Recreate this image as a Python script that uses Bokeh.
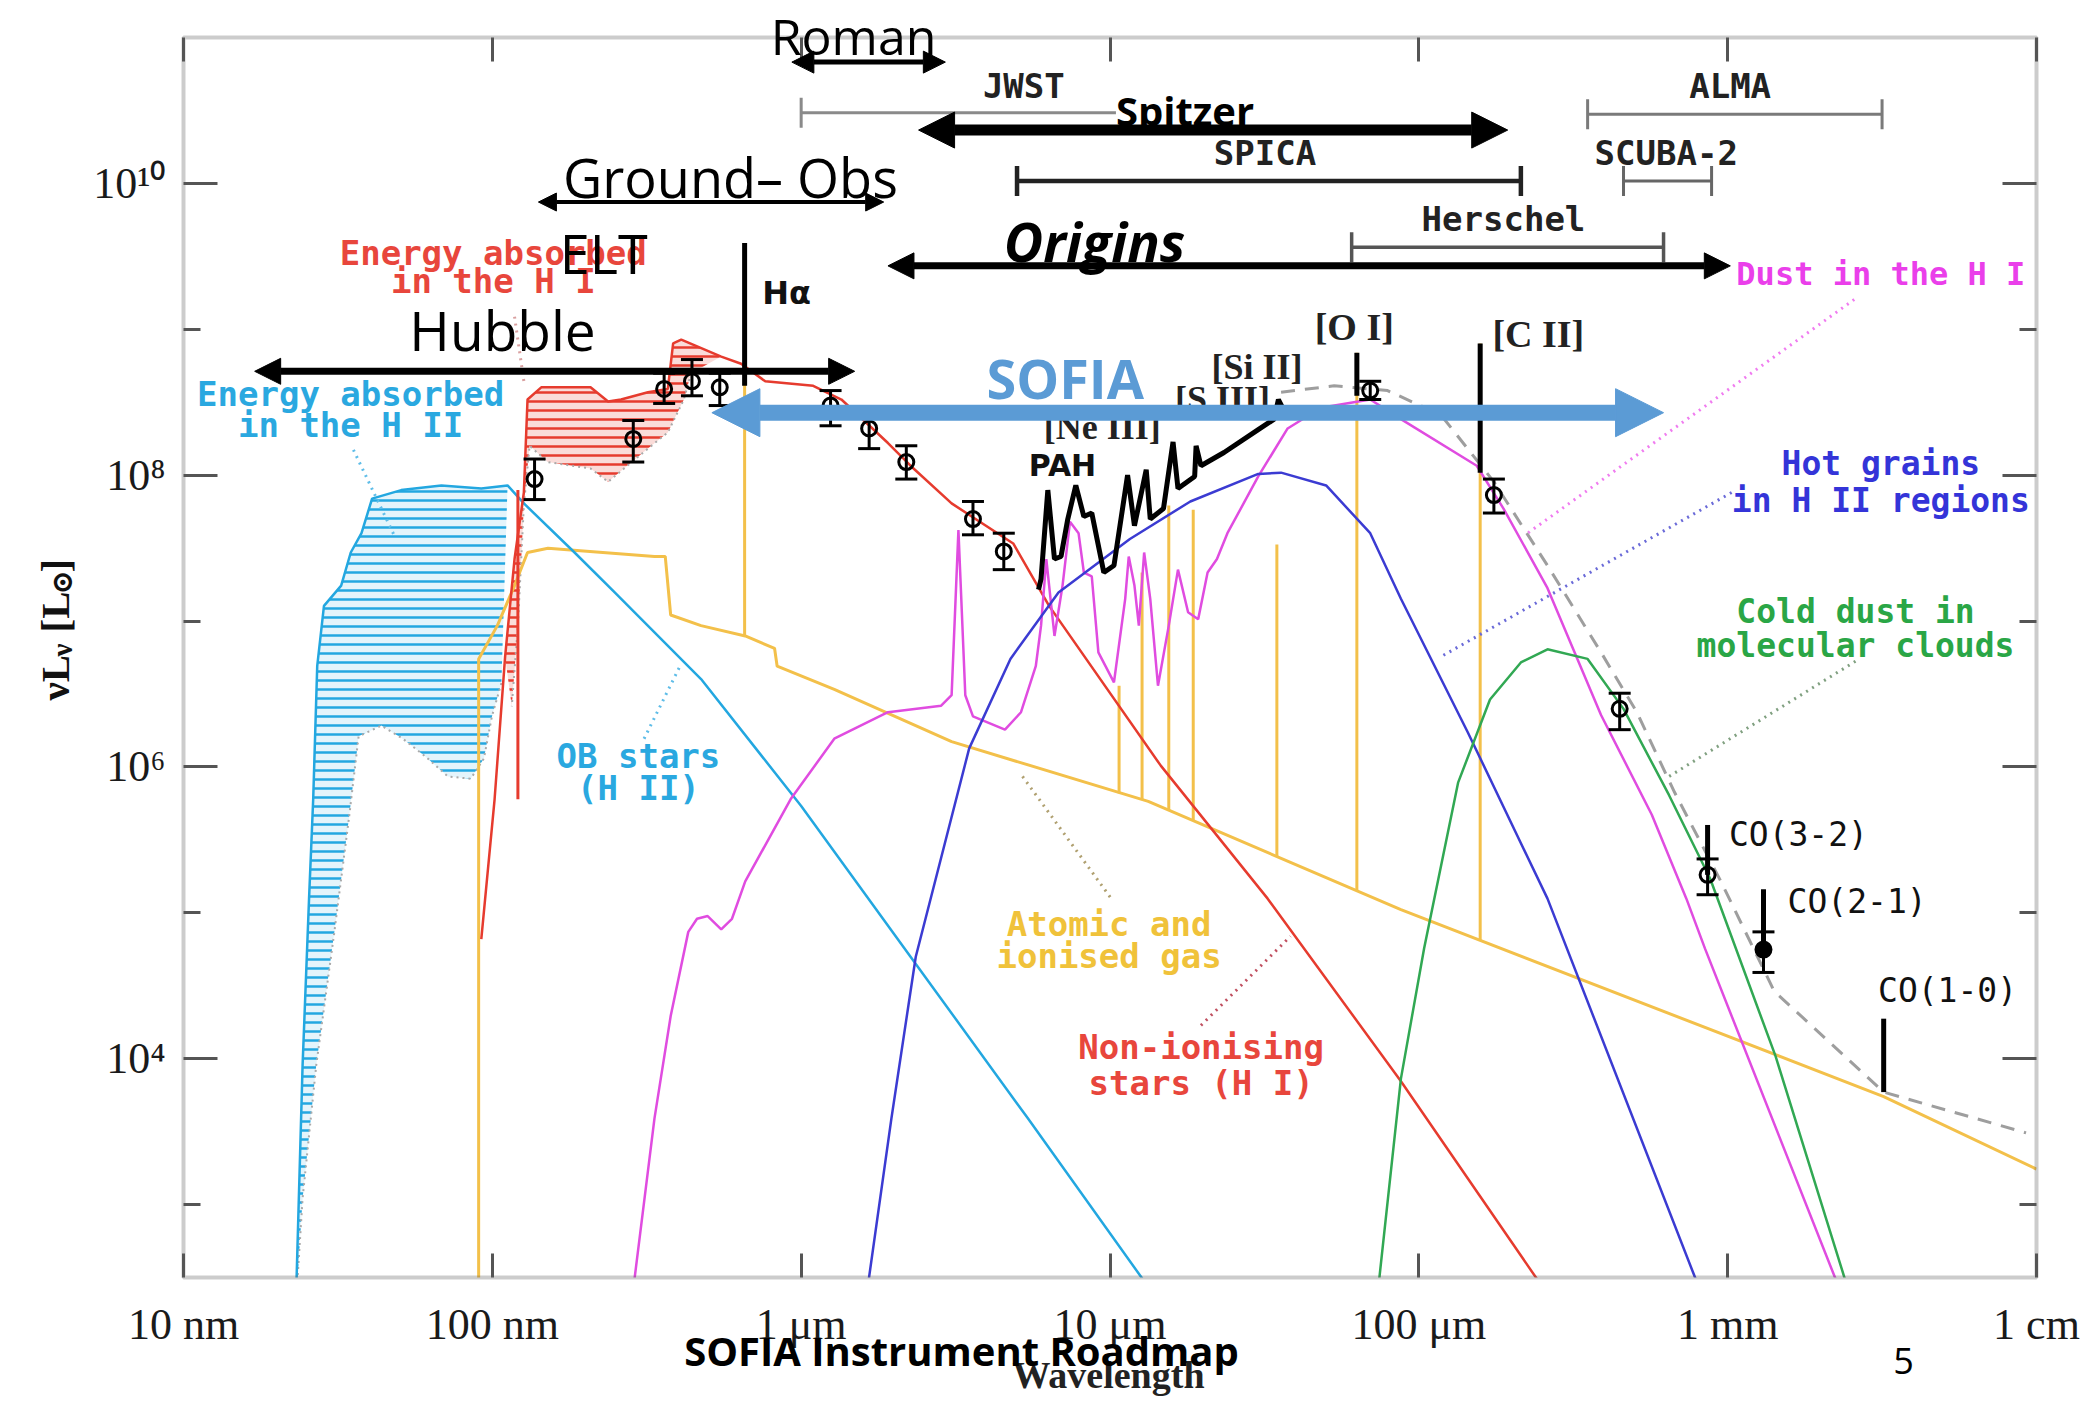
import numpy as np
from bokeh.plotting import figure
from bokeh.models import (Range1d, LogAxis, FixedTicker, Label, Arrow, NormalHead,
                          Whisker, TeeHead, ColumnDataSource, BoxAnnotation)
from bokeh.embed import file_html
from bokeh.resources import INLINE

# ---------------- data: wavelength [micron], nu L_nu [L_sun] ----------------
x_ticks = [0.01, 0.1, 1, 10, 100, 1000, 10000]
x_labels = ["10 nm", "100 nm", "1 μm", "10 μm", "100 μm", "1 mm", "1 cm"]
y_ticks = [10000, 1000000, 100000000, 10000000000]
y_minor = [1000, 100000, 10000000, 1000000000]
y_labels = ["10⁴", "10⁶", "10⁸", "10¹⁰"]
X_MIN, X_MAX = 0.01, 1e4          # axis box limits
Y_MIN, Y_MAX = 10 ** 2.5, 1e11

# OB stars (H II) - cyan
ob_wl = [0.0231, 0.0243, 0.0255, 0.0263, 0.0271, 0.0285, 0.0324, 0.0348, 0.0377, 0.0408, 0.0507,
         0.0684, 0.0921, 0.112, 0.1265, 0.1846, 0.249, 0.474, 1.0, 2.26, 5.42, 12.6, 15.4]
ob_L = [2.0e2, 9.0e3, 1.25e5, 6.0e5, 4.9e6, 1.27e7, 1.75e7, 2.95e7, 4.0e7, 6.9e7, 7.9e7,
        8.5e7, 8.1e7, 8.5e7, 6.4e7, 2.95e7, 1.57e7, 4.0e6, 5.4e5, 5.0e4, 3.9e3, 3.2e2, 1.66e2]
# lower edge of energy absorbed in the H II
hii_bot_wl = [0.107, 0.0997, 0.0939, 0.0851, 0.0718, 0.0607, 0.0513, 0.0437, 0.0369, 0.0344,
              0.0308, 0.0269, 0.0243, 0.0231]
hii_bot_L = [3.76e6, 2.22e6, 1.14e6, 8.3e5, 8.6e5, 1.18e6, 1.56e6, 1.92e6, 1.62e6, 4.6e5,
             7.4e4, 9.0e3, 1.1e3, 2.0e2]

# Non-ionising stars (H I) - red
red_wl = [0.0921, 0.1017, 0.110, 0.118, 0.1265, 0.130, 0.144, 0.208, 0.237, 0.261, 0.319, 0.370,
          0.385, 0.409, 0.551, 0.639, 0.765, 1.094, 1.35, 1.91, 2.26, 3.07, 4.86, 6.35, 14.6,
          32.4, 87.5, 241, 288]
red_L = [6.6e4, 6.0e5, 5.7e6, 2.66e7, 7.6e7, 3.3e8, 4.0e8, 4.0e8, 3.2e8, 3.3e8, 3.7e8, 3.9e8,
         8.0e8, 8.5e8, 6.5e8, 5.8e8, 4.4e8, 4.1e8, 3.3e8, 1.66e8, 1.16e8, 6.4e7, 3.4e7, 1.27e7,
         1.02e6, 1.25e5, 7.0e3, 3.1e2, 1.84e2]
hi_bot_wl = [0.440, 0.417, 0.370, 0.319, 0.237, 0.208, 0.151, 0.132, 0.1265, 0.121, 0.1156]
hi_bot_L = [5.0e8, 3.3e8, 1.96e8, 1.52e8, 9.0e7, 1.11e8, 1.23e8, 1.59e8, 6.2e7, 9.3e6, 2.6e6]
red_spike_wl = [0.121]
red_spike_top = [7.9e7]
red_spike_bot = [6.0e5]

# Atomic and ionised gas - yellow continuum and lines
gas_wl = [0.0903, 0.0903, 0.1038, 0.118, 0.130, 0.1514, 0.335, 0.363, 0.378, 0.474, 0.659,
          0.820, 0.836, 1.28, 3.07, 13.3, 87.5, 3200, 10000]
gas_L = [2.0e2, 5.5e6, 9.3e6, 1.75e7, 2.95e7, 3.15e7, 2.77e7, 2.77e7, 1.10e7, 9.3e6, 7.9e6,
         6.5e6, 4.9e6, 3.4e6, 1.49e6, 5.8e5, 1.05e5, 5.5e3, 1.75e3]
gasline_wl = [0.656, 10.7, 12.7, 15.5, 18.6, 34.7, 63, 158]
gasline_base = [7.9e6, 6.6e5, 6.0e5, 5.05e5, 4.3e5, 2.43e5, 1.41e5, 6.5e4]
gasline_peak = [3.9e9, 3.6e6, 2.15e7, 6.2e7, 5.8e7, 3.35e7, 6.9e8, 8.0e8]

# Dust in the H I - magenta
mag_wl = [0.280, 0.335, 0.378, 0.431, 0.460, 0.498, 0.551, 0.597, 0.659, 0.924, 1.28, 1.91, 2.84,
          3.07, 3.23, 3.40, 3.60, 4.57, 5.15, 5.75, 5.98, 6.22, 6.61, 7.02, 7.42, 7.91, 8.23,
          8.73, 9.17, 10.3, 11.2, 11.5, 12.0, 12.4, 12.9, 13.5, 14.3, 15.5, 16.6, 17.9, 19.3,
          20.7, 22.2, 24.0, 30.2, 37.6, 48.2, 69.6, 87.5, 154, 188, 261, 389, 568, 735, 844,
          2234, 2443]
mag_L = [1.84e2, 3.9e3, 1.96e4, 7.4e4, 9.1e4, 9.5e4, 7.7e4, 9.1e4, 1.64e5, 6.0e5, 1.56e6, 2.37e6,
         2.63e6, 3.1e6, 4.2e7, 3.1e6, 2.22e6, 1.80e6, 2.37e6, 4.9e6, 9.3e6, 2.66e7, 7.9e6,
         1.75e7, 4.8e7, 4.0e7, 2.15e7, 2.02e7, 6.1e6, 3.8e6, 1.42e7, 2.77e7, 1.75e7, 9.3e6,
         2.95e7, 1.42e7, 3.6e6, 9.3e6, 2.25e7, 1.15e7, 1.03e7, 2.15e7, 2.66e7, 4.0e7, 9.8e7,
         2.09e8, 2.9e8, 3.3e8, 2.42e8, 1.16e8, 5.9e7, 1.68e7, 2.27e6, 4.7e5, 1.25e5, 5.7e4,
         3.1e2, 1.84e2]

# Hot grains in H II regions - blue
blu_wl = [1.60, 1.96, 2.35, 3.50, 4.76, 6.81, 11.6, 18.2, 30.2, 35.8, 50.1, 69.6, 87.5, 144,
          261, 787, 861]
blu_L = [1.84e2, 3.9e3, 5.0e4, 1.34e6, 5.5e6, 1.57e7, 3.65e7, 6.6e7, 1.02e8, 1.04e8, 8.5e7,
         4.0e7, 1.42e7, 1.73e6, 1.25e5, 3.1e2, 1.84e2]

# Cold dust in molecular clouds - green
grn_wl = [72.5, 87.5, 104, 134, 170, 214, 261, 352, 460, 646, 878, 1429, 2395, 2618]
grn_L = [1.84e2, 7.3e3, 5.7e4, 7.8e5, 2.9e6, 5.2e6, 6.4e6, 5.5e6, 2.5e6, 6.4e5, 1.71e5, 1.04e4,
         3.1e2, 1.84e2]

# total model (grey dashed)
tot_wl = [35.8, 53.2, 79.2, 118, 175, 261, 389, 508, 673, 951, 1415, 3200, 9250]
tot_L = [3.7e8, 4.1e8, 3.8e8, 2.58e8, 9.0e7, 2.4e7, 6.1e6, 2.37e6, 6.7e5, 1.64e5, 2.9e4,
         5.9e3, 3.1e3]

# observed mid-IR spectrum (black)
obs_wl = [5.87, 5.98, 6.29, 6.61, 6.94, 7.30, 7.75, 8.23, 8.73, 9.55, 10.3, 11.4, 12.0, 13.1,
          13.5, 14.9, 16.0, 16.6, 18.8, 19.0, 19.7, 23.4, 30.2, 34.0, 35.1, 36.5]
obs_L = [1.64e7, 1.94e7, 7.9e7, 2.66e7, 2.77e7, 5.0e7, 8.5e7, 5.2e7, 5.5e7, 2.15e7, 2.4e7,
         1.0e8, 4.5e7, 1.09e8, 5.0e7, 5.9e7, 1.69e8, 8.1e7, 9.8e7, 1.59e8, 1.16e8, 1.43e8,
         2.05e8, 2.42e8, 3.3e8, 2.8e8]

# observed lines (black vertical marks): H-alpha, [O I], [C II], CO(3-2), CO(2-1), CO(1-0)
obsline_wl = [0.656, 63, 158, 861, 1306, 3200]
obsline_top = [3.9e9, 6.9e8, 8.0e8, 4.0e5, 1.45e5, 1.88e4]
obsline_bot = [4.1e8, 3.5e8, 1.04e8, 1.82e5, 5.6e4, 5.9e3]

# photometric data points with error bars
pt_wl = [0.137, 0.286, 0.360, 0.443, 0.545, 1.245, 1.66, 2.19, 3.60, 4.53, 69.6, 175, 447, 861, 1306]
pt_L = [9.4e7, 1.77e8, 3.9e8, 4.4e8, 4.0e8, 3.0e8, 2.09e8, 1.23e8, 5.0e7, 3.0e7, 3.8e8, 7.3e7,
        2.5e6, 1.82e5, 5.6e4]
pt_hi = [1.29e8, 2.37e8, 5.0e8, 6.2e8, 5.0e8, 3.8e8, 2.7e8, 1.59e8, 6.6e7, 4.0e7, 4.4e8, 9.4e7,
         3.2e6, 2.34e5, 7.4e4]
pt_lo = [6.8e7, 1.23e8, 3.1e8, 3.5e8, 3.0e8, 2.18e8, 1.52e8, 9.4e7, 3.9e7, 2.25e7, 3.3e8, 5.5e7,
         1.80e6, 1.33e5, 3.9e4]

# instrument coverage bars from the original figure
inst_names = ["JWST", "SPICA", "Herschel", "ALMA", "SCUBA-2"]
inst_lo = [1.0, 5.0, 60.6, 352, 460]
inst_hi = [28, 214, 620, 3162, 887]
inst_y = [3.05e10, 1.04e10, 3.65e9, 2.98e10, 1.04e10]

# overlaid observatory ranges (arrows)
obs_names = ["Roman", "Ground– Obs", "Hubble", "Spitzer", "Origins", "SOFIA"]
obs_lo = [0.933, 0.141, 0.0170, 2.40, 1.91, 0.514]
obs_hi = [2.93, 1.85, 1.49, 194, 1020, 620]
obs_y = [6.78e10, 7.45e9, 5.15e8, 2.32e10, 2.72e9, 2.68e8]

# ---------------- colours ----------------
CYAN = "#23a7e0"
RED = "#e63b2e"
GOLD = "#f3c04a"
MAG = "#e04ce0"
BLUE = "#3b3bd2"
GREEN = "#31a853"
GRAY = "#9e9e9e"
SOFIA_BLUE = "#5b9bd5"

# ---------------- layout: the plot box sits at these page pixels ----------------
W, H = 2090, 1401
BOX_L, BOX_R, BOX_T, BOX_B = 183, 2036, 37, 1277
dec_x = (BOX_R - BOX_L) / (np.log10(X_MAX) - np.log10(X_MIN))
dec_y = (BOX_B - BOX_T) / (np.log10(Y_MAX) - np.log10(Y_MIN))
x_rng = Range1d(10 ** (np.log10(X_MIN) - BOX_L / dec_x), 10 ** (np.log10(X_MAX) + (W - BOX_R) / dec_x))
y_rng = Range1d(10 ** (np.log10(Y_MIN) - (H - BOX_B) / dec_y), 10 ** (np.log10(Y_MAX) + BOX_T / dec_y))

p = figure(width=W, height=H, x_axis_type="log", y_axis_type="log",
           x_range=x_rng, y_range=y_rng, output_backend="svg", toolbar_location=None,
           min_border=0, min_border_left=0, min_border_right=0, min_border_top=0,
           min_border_bottom=0)
p.grid.visible = False
p.outline_line_color = None
p.background_fill_color = "white"
p.border_fill_color = "white"

xa = p.below[0]
xa.ticker = FixedTicker(ticks=x_ticks)
xa.major_label_overrides = {t: l for t, l in zip(x_ticks, x_labels)}
xa.fixed_location = Y_MIN
ya = p.left[0]
ya.ticker = FixedTicker(ticks=y_ticks, minor_ticks=y_minor)
ya.major_label_overrides = {t: l for t, l in zip(y_ticks, y_labels)}
ya.fixed_location = X_MIN

for ax, tin in ((xa, 24), (ya, 34)):
    ax.axis_line_color = None
    ax.major_tick_in = tin
    ax.major_tick_out = 0
    ax.major_tick_line_width = 3
    ax.major_tick_line_color = "#555555"
    ax.minor_tick_in = 17
    ax.minor_tick_out = 0
    ax.minor_tick_line_width = 3
    ax.minor_tick_line_color = "#555555"
    ax.major_label_text_font = "Liberation Serif"
    ax.major_label_text_font_size = "44px"
    ax.major_label_text_color = "#1a1a1a"
xa.major_label_standoff = 22
ya.major_label_standoff = 18

top = LogAxis(ticker=FixedTicker(ticks=x_ticks), fixed_location=Y_MAX,
              major_label_text_font_size="8px", major_label_text_alpha=0.0,
              major_label_standoff=0, axis_line_color=None,
              major_tick_in=24, major_tick_out=0, major_tick_line_width=3,
              major_tick_line_color="#555555", minor_tick_line_color=None)
p.add_layout(top, "above")
right = LogAxis(ticker=FixedTicker(ticks=y_ticks, minor_ticks=y_minor), fixed_location=X_MAX,
                major_label_text_font_size="8px", major_label_text_alpha=0.0,
                major_label_standoff=0, axis_line_color=None,
                major_tick_in=34, major_tick_out=0, major_tick_line_width=3,
                major_tick_line_color="#555555", minor_tick_in=17, minor_tick_out=0,
                minor_tick_line_width=3, minor_tick_line_color="#555555")
p.add_layout(right, "right")

# ---------------- hatched absorbed-energy areas ----------------
p.patch(ob_wl[:14] + hii_bot_wl, ob_L[:14] + hii_bot_L, fill_color=CYAN, fill_alpha=0.12,
        hatch_pattern="horizontal_line", hatch_color=CYAN, hatch_scale=9, hatch_weight=2.5,
        line_color=None)
p.patch(red_wl[2:15] + hi_bot_wl, red_L[2:15] + hi_bot_L, fill_color=RED, fill_alpha=0.18,
        hatch_pattern="horizontal_line", hatch_color=RED, hatch_scale=9, hatch_weight=2.5,
        line_color=None)
p.line(hii_bot_wl, hii_bot_L, line_color="#aaaaaa", line_width=2, line_dash="2 4")
p.line(hi_bot_wl, hi_bot_L, line_color="#aaaaaa", line_width=2, line_dash="2 4")

# ---------------- model components ----------------
p.line(gas_wl, gas_L, line_color=GOLD, line_width=3)
p.segment(x0=gasline_wl, y0=gasline_base, x1=gasline_wl, y1=gasline_peak,
          line_color=GOLD, line_width=3)
p.line(ob_wl, ob_L, line_color=CYAN, line_width=2.5)
p.line(red_wl, red_L, line_color=RED, line_width=2.5)
p.segment(x0=red_spike_wl, y0=red_spike_bot, x1=red_spike_wl, y1=red_spike_top,
          line_color=RED, line_width=3)
p.line(mag_wl, mag_L, line_color=MAG, line_width=2.5)
p.line(blu_wl, blu_L, line_color=BLUE, line_width=2.5)
p.line(grn_wl, grn_L, line_color=GREEN, line_width=2.5)
p.line(tot_wl, tot_L, line_color=GRAY, line_width=3, line_dash="14 10")
p.line(obs_wl, obs_L, line_color="black", line_width=5)
p.segment(x0=obsline_wl, y0=obsline_bot, x1=obsline_wl, y1=obsline_top,
          line_color="black", line_width=5)

# ---------------- photometry ----------------
src = ColumnDataSource(dict(x=pt_wl, y=pt_L, lo=pt_lo, hi=pt_hi))
p.scatter(pt_wl[:-1], pt_L[:-1], marker="circle", size=15, fill_color=None,
          line_color="black", line_width=3)
p.scatter(pt_wl[-1:], pt_L[-1:], marker="circle", size=15, fill_color="black",
          line_color="black", line_width=3)

# ---------------- instrument bars ----------------
inst_col = ["#8a8a8a", "#222222", "#555555", "#7a7a7a", "#666666"]
inst_w = [3, 4.5, 3.5, 3, 3]
p.segment(x0=inst_lo, y0=inst_y, x1=inst_hi, y1=inst_y, line_color=inst_col, line_width=inst_w)
p.scatter(inst_lo + inst_hi, inst_y + inst_y, marker="dash", angle=np.pi / 2, size=30,
          line_color=inst_col + inst_col, line_width=inst_w + inst_w)

# ---------------- leader lines ----------------
lead_x0 = [0.0355, 0.118, 0.310, 5.21, 19.7, 2570, 1030, 2594]
lead_y0 = [1.49e8, 1.22e9, 1.56e6, 8.6e5, 1.69e4, 1.6e9, 7.6e7, 5.3e6]
lead_x1 = [0.0483, 0.1265, 0.405, 10.1, 38.4, 225, 118, 646]
lead_y1 = [3.8e7, 4.4e8, 4.9e6, 1.25e5, 6.9e4, 4.0e7, 5.7e6, 8.6e5]
lead_c = ["#5fbde8", "#d9a0a0", "#5fbde8", "#b0a070", "#c05060", "#f07cf0", "#6a6ad8", "#80a080"]
p.segment(x0=lead_x0, y0=lead_y0, x1=lead_x1, y1=lead_y1, line_color=lead_c, line_width=3,
          line_dash="2 5")

# white masks: curves are only shown inside the axis box
for kw in (dict(top=Y_MIN), dict(bottom=Y_MAX), dict(right=X_MIN), dict(left=X_MAX)):
    p.add_layout(BoxAnnotation(fill_color="white", fill_alpha=1.0, line_color=None,
                               level="glyph", **kw))
# the axis box
p.add_layout(BoxAnnotation(left=X_MIN, right=X_MAX, bottom=Y_MIN, top=Y_MAX, fill_alpha=0.0,
                           line_color="#555555", line_width=4, level="guide"))

wh = Whisker(source=src, base="x", lower="lo", upper="hi", line_width=3, line_color="black",
             upper_head=TeeHead(size=22, line_width=3, line_color="black"),
             lower_head=TeeHead(size=22, line_width=3, line_color="black"), level="annotation")
p.add_layout(wh)


def lab(text, u, v, size, color="black", font="DejaVu Sans Mono", style="bold",
        align="center", baseline="middle", angle=0.0, bg=None):
    """label placed at log10(wavelength) = u, log10(luminosity) = v"""
    p.add_layout(Label(x=10 ** u, y=10 ** v, text=text, text_font=font, text_font_size=size,
                       text_color=color, text_font_style=style, text_align=align,
                       text_baseline=baseline, angle=angle, background_fill_color=bg))


# labels from the original figure
for t, u, v in zip(inst_names, [0.721, 1.502, 2.274, 3.008, 2.801],
                   [10.667, 10.21, 9.753, 10.667, 10.21]):
    lab(t, u, v, "34px", "#222222")

RL, CL, ML, BL, GL, YL = "#e8463c", "#2aa8e0", "#ea3fea", "#3434d8", "#2aa646", "#f0c23a"
lab("Energy absorbed", -0.997, 9.525, "34px", RL)
lab("in the H I", -0.997, 9.333, "34px", RL)
lab("Energy absorbed", -1.459, 8.557, "34px", CL)
lab("in the H II", -1.459, 8.347, "34px", CL)
lab("OB stars", -0.527, 6.073, "34px", CL)
lab("(H II)", -0.527, 5.854, "34px", CL)
lab("Atomic and", 0.997, 4.922, "34px", YL)
lab("ionised gas", 0.997, 4.703, "34px", YL)
lab("Non-ionising", 1.295, 4.082, "34px", RL)
lab("stars (H I)", 1.295, 3.836, "34px", RL)
lab("Dust in the H I", 3.496, 9.379, "32px", ML)
lab("Hot grains", 3.496, 8.082, "33px", BL)
lab("in H II regions", 3.496, 7.826, "33px", BL)
lab("Cold dust in", 3.414, 7.068, "33px", GL)
lab("molecular clouds", 3.414, 6.831, "33px", GL)
lab("CO(3-2)", 3.004, 5.534, "33px", "#111111", style="normal", align="left")
lab("CO(2-1)", 3.194, 5.078, "33px", "#111111", style="normal", align="left")
lab("CO(1-0)", 3.712, 4.466, "33px", "#111111", style="normal")
lab("Hα", -0.047, 9.251, "32px", "#111111", font="DejaVu Sans")
lab("PAH", 0.846, 8.064, "30px", "#111111", font="DejaVu Sans")
lab("[Ne III]", 0.975, 8.329, "36px", "#222222", font="Liberation Serif")
lab("[S III]", 1.364, 8.521, "36px", "#222222", font="Liberation Serif")
lab("[Si II]", 1.476, 8.740, "36px", "#222222", font="Liberation Serif")
lab("[O I]", 1.791, 9.014, "38px", "#222222", font="Liberation Serif")
lab("[C II]", 2.387, 8.968, "38px", "#222222", font="Liberation Serif")

# y-axis label  nu L_nu [L_sun] (rotated, left of the axis box)
rot = np.pi / 2
lab("νL", -2.4177, 6.4552, "41px", "#111111", font="Liberation Serif", style="bold",
    align="left", baseline="alphabetic", angle=rot)
lab("ν", -2.3950, 6.7569, "29px", "#111111", font="Liberation Serif", style="bold",
    align="left", baseline="alphabetic", angle=rot)
lab("[L", -2.4177, 6.9214, "41px", "#111111", font="Liberation Serif", style="bold",
    align="left", baseline="alphabetic", angle=rot)
lab("⊙", -2.3950, 7.1818, "29px", "#111111", font="DejaVu Serif", style="bold",
    align="left", baseline="alphabetic", angle=rot)
lab("]", -2.4177, 7.3327, "41px", "#111111", font="Liberation Serif", style="bold",
    align="left", baseline="alphabetic", angle=rot)
lab("Wavelength", 0.9951, 1.975, "38px", "#222222", font="Liberation Serif", style="bold",
    baseline="top")

# Spitzer text box (white background) sits under the arrows, over the JWST bar
lab("Spitzer", 1.243, 10.502, "40px", "black", font="Open Sans", style="bold", bg="white")

# ---------------- overlaid observatory arrows ----------------
arr_w = [5, 4, 7, 11, 7, 16]
arr_head = [22, 18, 26, 36, 26, 48]
arr_col = ["black"] * 5 + [SOFIA_BLUE]
for x0, x1, y, w, hs, c in zip(obs_lo, obs_hi, obs_y, arr_w, arr_head, arr_col):
    p.add_layout(Arrow(x_start=x0, y_start=y, x_end=x1, y_end=y, line_width=w, line_color=c,
                       start=NormalHead(size=hs, fill_color=c, line_color=c),
                       end=NormalHead(size=hs, fill_color=c, line_color=c)))

lab("Roman", 0.1695, 11.0137, "50px", "black", font="Open Sans", style="normal")
lab("Ground– Obs", -0.229, 10.046, "54px", "black", font="Open Sans", style="normal")
lab("ELT", -0.639, 9.525, "54px", "black", font="Open Sans", style="normal")
lab("Hubble", -0.967, 8.995, "55px", "black", font="Open Sans", style="normal")
lab("Origins", 0.950, 9.607, "54px", "black", font="Open Sans", style="bold italic")
lab("SOFIA", 0.855, 8.667, "54px", SOFIA_BLUE, font="Open Sans", style="bold")
lab("SOFIA Instrument Roadmap", 0.5192, 1.9996, "40px", "black", font="Open Sans", style="bold")
lab("5", 3.5694, 1.931, "36px", "black", font="Open Sans", style="normal")

open("out.html", "w").write(file_html(p, INLINE))
